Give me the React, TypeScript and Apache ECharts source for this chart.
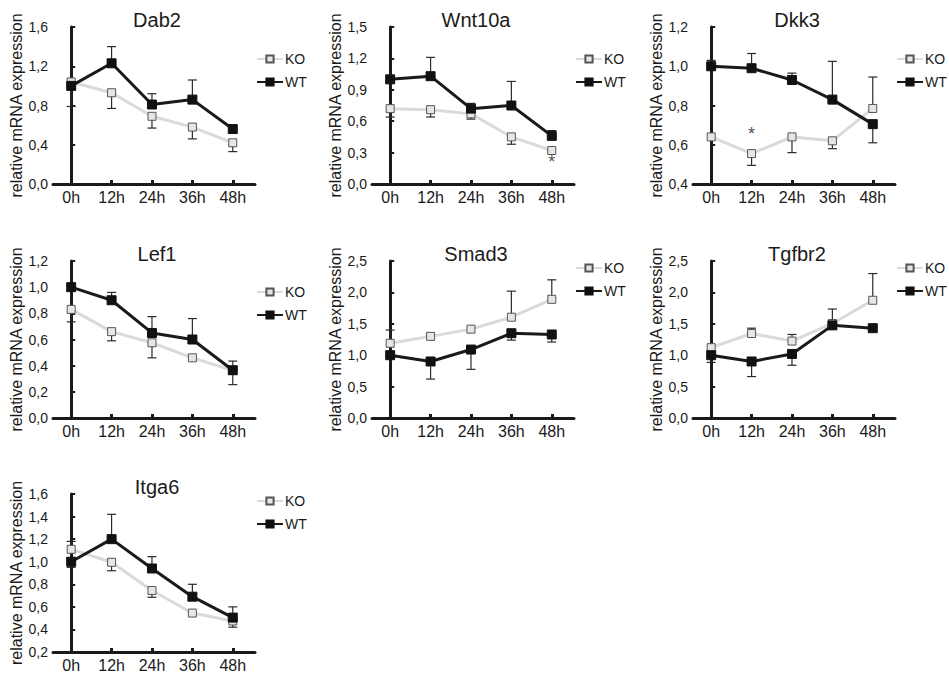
import React, { useEffect, useRef } from "react";
import * as echarts from "echarts";

const hours = ["0h", "12h", "24h", "36h", "48h"];
const hourIdx = [0, 1, 2, 3, 4];

// Dab2
const dab2KO = [1.04, 0.93, 0.69, 0.58, 0.42];
const dab2WT = [1.0, 1.23, 0.81, 0.86, 0.56];
const dab2KOErr = [null, 0.77, 0.57, 0.46, 0.33];
const dab2WTErr = [0.79, 1.4, 0.92, 1.06, null];

// Wnt10a
const wnt10aKO = [0.72, 0.71, 0.67, 0.45, 0.32];
const wnt10aWT = [1.0, 1.03, 0.72, 0.75, 0.46];
const wnt10aKOErr = [0.64, 0.64, 0.62, 0.38, null];
const wnt10aWTErr = [1.02, 1.21, 0.77, 0.98, 0.51];
const wnt10aStars = [[4, 0.21]];

// Dkk3
const dkk3KO = [0.64, 0.555, 0.64, 0.62, 0.785];
const dkk3WT = [1.0, 0.99, 0.93, 0.83, 0.705];
const dkk3KOErr = [null, 0.495, 0.56, 0.58, 0.945];
const dkk3WTErr = [1.03, 1.065, 0.965, 1.025, 0.61];
const dkk3Stars = [[1, 0.655]];

// Lef1
const lef1KO = [0.83, 0.66, 0.575, 0.46, 0.365];
const lef1WT = [1.0, 0.9, 0.65, 0.6, 0.365];
const lef1KOErr = [0.735, 0.59, 0.46, null, 0.255];
const lef1WTErr = [null, 0.96, 0.775, 0.76, 0.435];

// Smad3
const smad3KO = [1.19, 1.3, 1.415, 1.605, 1.89];
const smad3WT = [1.0, 0.9, 1.09, 1.35, 1.33];
const smad3KOErr = [1.4, null, null, 2.02, 2.2];
const smad3WTErr = [null, 0.62, 0.775, 1.24, 1.21];

// Tgfbr2
const tgfbr2KO = [1.12, 1.345, 1.225, 1.505, 1.875];
const tgfbr2WT = [1.0, 0.9, 1.02, 1.475, 1.43];
const tgfbr2KOErr = [null, 1.43, 1.33, null, 2.3];
const tgfbr2WTErr = [0.885, 0.66, 0.84, 1.735, null];

// Itga6
const itga6KO = [1.11, 0.995, 0.745, 0.545, 0.475];
const itga6WT = [1.0, 1.2, 0.94, 0.69, 0.505];
const itga6KOErr = [1.18, 0.92, 0.685, null, 0.42];
const itga6WTErr = [0.95, 1.42, 1.045, 0.8, 0.6];

const panels = [
  { title: "Dab2", ko: dab2KO, wt: dab2WT, koErr: dab2KOErr, wtErr: dab2WTErr, yMin: 0, yMax: 1.6, yStep: 0.4, stars: [] as number[][] },
  { title: "Wnt10a", ko: wnt10aKO, wt: wnt10aWT, koErr: wnt10aKOErr, wtErr: wnt10aWTErr, yMin: 0, yMax: 1.5, yStep: 0.3, stars: wnt10aStars },
  { title: "Dkk3", ko: dkk3KO, wt: dkk3WT, koErr: dkk3KOErr, wtErr: dkk3WTErr, yMin: 0.4, yMax: 1.2, yStep: 0.2, stars: dkk3Stars },
  { title: "Lef1", ko: lef1KO, wt: lef1WT, koErr: lef1KOErr, wtErr: lef1WTErr, yMin: 0, yMax: 1.2, yStep: 0.2, stars: [] as number[][] },
  { title: "Smad3", ko: smad3KO, wt: smad3WT, koErr: smad3KOErr, wtErr: smad3WTErr, yMin: 0, yMax: 2.5, yStep: 0.5, stars: [] as number[][] },
  { title: "Tgfbr2", ko: tgfbr2KO, wt: tgfbr2WT, koErr: tgfbr2KOErr, wtErr: tgfbr2WTErr, yMin: 0, yMax: 2.5, yStep: 0.5, stars: [] as number[][] },
  { title: "Itga6", ko: itga6KO, wt: itga6WT, koErr: itga6KOErr, wtErr: itga6WTErr, yMin: 0.2, yMax: 1.6, yStep: 0.2, stars: [] as number[][] },
];

// layout (pixels)
const colLeft = [53, 372, 693];
const rowTop = [27, 261, 494];
const rowHeight = [157, 157, 158];
const gridWidth = 202;
const legendOffset = [33, 33, 33, 32, 8, 8, 8];

const FONT = '"Liberation Sans", Arial, Helvetica, sans-serif';
const INK = "#1a1a1a";

export default function App() {
  const ref = useRef<HTMLDivElement>(null);

  useEffect(() => {
    document.body.style.margin = "0";
    const chart = echarts.init(ref.current!, null, { renderer: "svg" });

    const grids: any[] = [];
    const xAxes: any[] = [];
    const yAxes: any[] = [];
    const series: any[] = [];
    const legends: any[] = [];
    const graphics: any[] = [];

    panels.forEach((p, i) => {
      const col = i % 3;
      const row = Math.floor(i / 3);
      const left = colLeft[col];
      const top = rowTop[row];
      const height = rowHeight[row];
      grids.push({ left, top, width: gridWidth, height, containLabel: false });

      xAxes.push({
        type: "value",
        gridIndex: i,
        min: -0.45,
        max: 4.55,
        splitLine: { show: false },
        axisLine: { show: true, onZero: false, lineStyle: { color: INK, width: 3 } },
        axisTick: { show: true, inside: true, customValues: hourIdx, length: 4, lineStyle: { color: INK, width: 3 } },
        axisLabel: {
          customValues: hourIdx,
          formatter: (v: number) => hours[Math.round(v)] ?? "",
          fontFamily: FONT,
          fontSize: 16,
          color: INK,
          margin: 5,
        },
      });

      yAxes.push({
        type: "value",
        gridIndex: i,
        min: p.yMin,
        max: p.yMax,
        interval: p.yStep,
        name: "relative mRNA expression",
        nameLocation: "middle",
        nameGap: 26,
        nameTextStyle: { fontFamily: FONT, fontSize: 16, color: INK },
        splitLine: { show: false },
        axisLine: { show: true, lineStyle: { color: INK, width: 3 } },
        axisTick: { show: true, inside: true, length: 4, lineStyle: { color: INK, width: 2 } },
        axisLabel: {
          formatter: (v: number) => v.toFixed(1).replace(".", ","),
          fontFamily: FONT,
          fontSize: 14,
          color: INK,
          margin: 5,
        },
      });

      const errData = (vals: number[], ends: (number | null)[]) =>
        hourIdx
          .filter((k) => ends[k] !== null && ends[k] !== undefined)
          .map((k) => [k, vals[k], ends[k]]);

      const renderErr = (params: any, api: any) => {
        const x = api.value(0);
        const v = api.value(1);
        const e = api.value(2);
        const p1 = api.coord([x, v]);
        const p2 = api.coord([x, e]);
        const st = { stroke: "#2a2a2a", lineWidth: 1.2 };
        return {
          type: "group",
          children: [
            { type: "line", shape: { x1: p1[0], y1: p1[1], x2: p2[0], y2: p2[1] }, style: st },
            { type: "line", shape: { x1: p2[0] - 4.5, y1: p2[1], x2: p2[0] + 4.5, y2: p2[1] }, style: st },
          ],
        };
      };

      series.push({
        type: "custom",
        name: "KOerr",
        xAxisIndex: i,
        yAxisIndex: i,
        clip: false,
        z: 1,
        renderItem: renderErr,
        encode: { x: 0, y: [1, 2] },
        data: errData(p.ko, p.koErr),
        silent: true,
      });
      series.push({
        type: "custom",
        name: "WTerr",
        xAxisIndex: i,
        yAxisIndex: i,
        clip: false,
        z: 1,
        renderItem: renderErr,
        encode: { x: 0, y: [1, 2] },
        data: errData(p.wt, p.wtErr),
        silent: true,
      });

      series.push({
        type: "line",
        name: "KO",
        xAxisIndex: i,
        yAxisIndex: i,
        z: 2,
        symbol: "rect",
        symbolSize: 8,
        data: hourIdx.map((k) => [k, p.ko[k]]),
        lineStyle: { color: "#dadada", width: 3 },
        itemStyle: { color: "#e6e6e6", borderColor: "#555", borderWidth: 1 },
      });
      series.push({
        type: "line",
        name: "WT",
        xAxisIndex: i,
        yAxisIndex: i,
        z: 3,
        symbol: "rect",
        symbolSize: 9,
        data: hourIdx.map((k) => [k, p.wt[k]]),
        lineStyle: { color: INK, width: 3 },
        itemStyle: { color: "#111", borderColor: "#111", borderWidth: 1 },
      });

      if (p.stars.length) {
        series.push({
          type: "scatter",
          name: "star",
          xAxisIndex: i,
          yAxisIndex: i,
          symbolSize: 1,
          z: 4,
          itemStyle: { color: "rgba(0,0,0,0)" },
          data: p.stars,
          label: {
            show: true,
            position: "inside",
            formatter: "*",
            fontFamily: FONT,
            fontSize: 18,
            color: "#222",
          },
          silent: true,
        });
      }

      legends.push({
        data: ["KO", "WT"],
        orient: "vertical",
        left: left + gridWidth + 1,
        top: top + legendOffset[i] - 13,
        padding: [5, 0, 5, 0],
        itemWidth: 26,
        itemHeight: 9,
        itemGap: 9,
        textStyle: { fontFamily: FONT, fontSize: 14, color: INK, padding: [0, 0, 0, -3] },
        selectedMode: false,
      });

      graphics.push({
        type: "text",
        x: left + 104,
        y: top - 7,
        style: {
          text: p.title,
          fontFamily: FONT,
          fontSize: 20,
          fill: INK,
          textAlign: "center",
          textVerticalAlign: "middle",
        },
      });
    });

    chart.setOption({
      animation: false,
      backgroundColor: "#ffffff",
      grid: grids,
      xAxis: xAxes,
      yAxis: yAxes,
      legend: legends,
      series,
      graphic: graphics,
    });

    return () => chart.dispose();
  }, []);

  return (
    <div
      ref={ref}
      style={{ position: "absolute", left: 0, top: 0, width: 949, height: 673, background: "#fff" }}
    />
  );
}
